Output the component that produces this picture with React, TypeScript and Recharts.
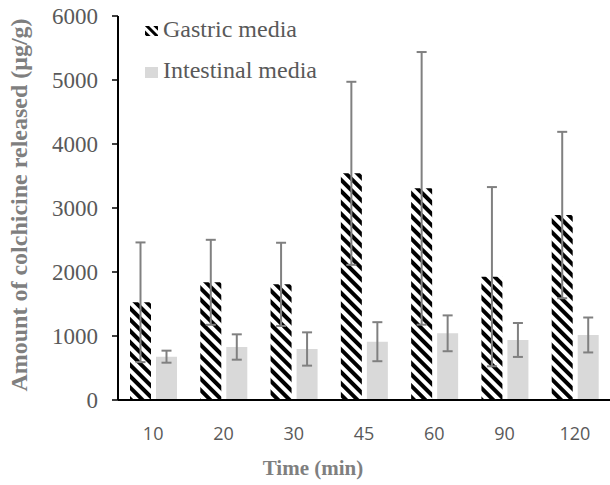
import React from 'react';
import { BarChart, Bar, XAxis, YAxis, ErrorBar } from 'recharts';

const categories = ['10', '20', '30', '45', '60', '90', '120'];
const seriesNames = ['Gastric media', 'Intestinal media'];
const gastric = [1527, 1839, 1807, 3542, 3307, 1927, 2890];
const gastricErr = [935, 664, 650, 1430, 2130, 1400, 1300];
const intestinal = [677, 828, 797, 911, 1042, 938, 1016];
const intestinalErr = [94, 198, 260, 305, 280, 265, 273];
const yTicks = [0, 1000, 2000, 3000, 4000, 5000, 6000];

const data = categories.map((c, i) => ({
  time: c,
  gastric: gastric[i],
  gastricErr: gastricErr[i],
  intestinal: intestinal[i],
  intestinalErr: intestinalErr[i],
}));

const serif = '"Liberation Serif", "Times New Roman", serif';
const sans = '"Open Sans", "Liberation Sans", sans-serif';

export default function App() {
  return (
    <div style={{ position: 'absolute', left: 0, top: 0, width: 610, height: 485, background: '#fff' }}>
      <BarChart
        width={610}
        height={485}
        data={data}
        margin={{ top: 16, right: 0, bottom: 0, left: 0 }}
        barSize={21}
        barGap={5}
      >
        <defs>
          <pattern id="hatch" patternUnits="userSpaceOnUse" width="8" height="8" patternTransform="rotate(-45)">
            <rect x="0" y="0" width="8" height="8" fill="#ffffff" />
            <rect x="0" y="0" width="4" height="8" fill="#000000" />
          </pattern>
        </defs>
        <XAxis
          dataKey="time"
          height={85}
          axisLine={{ stroke: '#000', strokeWidth: 2 }}
          tickLine={false}
          tickSize={0}
          tickMargin={27}
          tick={{ fill: '#595959', fontSize: 18, fontFamily: sans }}
          label={{
            value: 'Time (min)',
            content: () => (
              <text x={313} y={475} textAnchor="middle" fill="#7f7f7f" fontSize={21} fontWeight="bold" fontFamily={serif}>
                Time (min)
              </text>
            ),
          }}
        />
        <YAxis
          width={118}
          domain={[0, 6000]}
          ticks={yTicks}
          interval={0}
          axisLine={{ stroke: '#000', strokeWidth: 2 }}
          tickLine={{ stroke: '#000', strokeWidth: 1.5 }}
          tickSize={6}
          tickMargin={14}
          tick={{ fill: '#595959', fontSize: 23, fontFamily: serif }}
          label={{
            value: 'Amount of colchicine released (μg/g)',
            content: () => (
              <text
                x={27}
                y={205}
                transform="rotate(-90, 27, 205)"
                textAnchor="middle"
                fill="#7f7f7f"
                fontSize={24}
                fontWeight="bold"
                fontFamily={serif}
              >
                Amount of colchicine released (μg/g)
              </text>
            ),
          }}
        />
        <Bar dataKey="gastric" name={seriesNames[0]} fill="url(#hatch)" isAnimationActive={false}>
          <ErrorBar dataKey="gastricErr" width={5} stroke="#808080" strokeWidth={2} />
        </Bar>
        <Bar dataKey="intestinal" name={seriesNames[1]} fill="#d9d9d9" isAnimationActive={false}>
          <ErrorBar dataKey="intestinalErr" width={5} stroke="#808080" strokeWidth={2} />
        </Bar>
      </BarChart>
      <svg width={320} height={100} style={{ position: 'absolute', left: 0, top: 0, pointerEvents: 'none' }}>
        <defs>
          <pattern id="hatchLegend" patternUnits="userSpaceOnUse" width="6" height="6" patternTransform="rotate(-45)">
            <rect x="0" y="0" width="6" height="6" fill="#ffffff" />
            <rect x="0" y="0" width="3" height="6" fill="#000000" />
          </pattern>
        </defs>
        <rect x={145} y={26} width={13} height={10} fill="url(#hatchLegend)" />
        <text x={163} y={37} fill="#595959" fontSize={24} fontFamily={serif}>{seriesNames[0]}</text>
        <rect x={145} y={67} width={13} height={11} fill="#d9d9d9" />
        <text x={163} y={78} fill="#595959" fontSize={24} fontFamily={serif}>{seriesNames[1]}</text>
      </svg>
    </div>
  );
}
